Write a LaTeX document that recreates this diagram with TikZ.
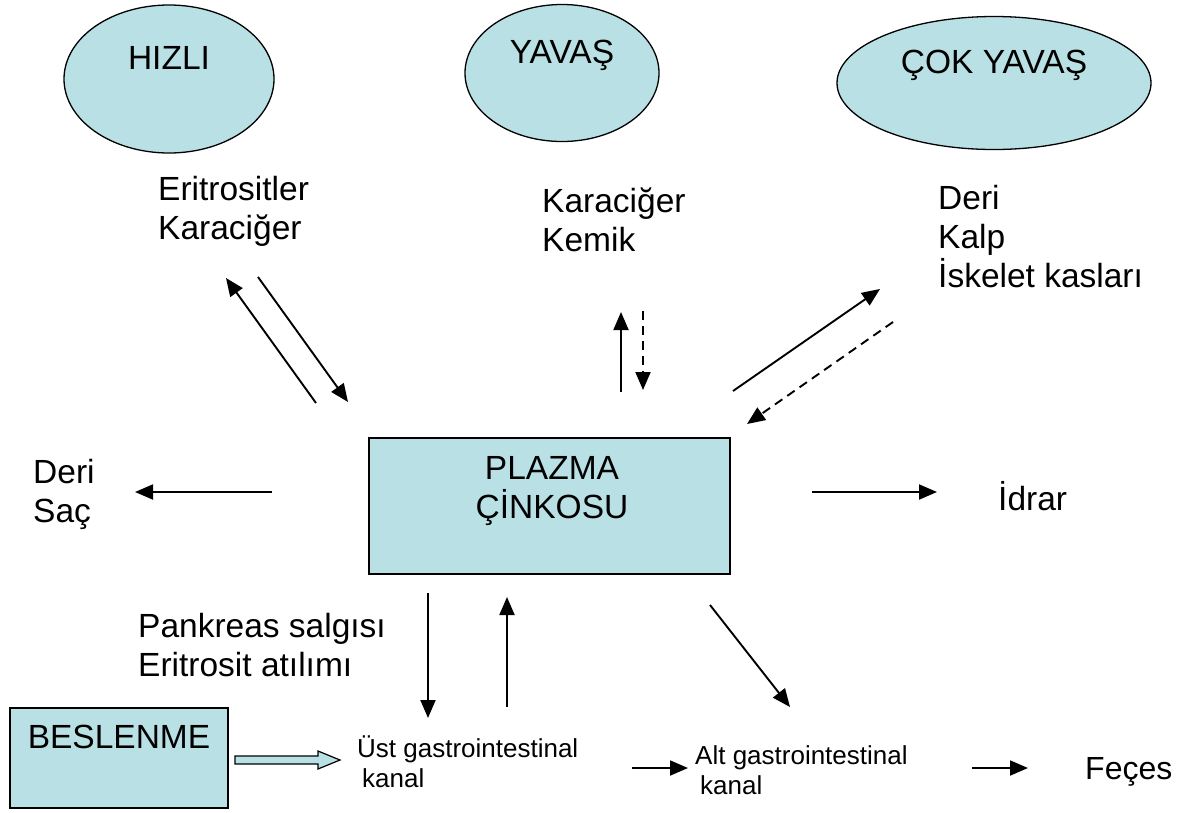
\documentclass[tikz,border=0pt]{standalone}
\usepackage{fontspec}
\setmainfont{Liberation Sans}
\usetikzlibrary{shapes.geometric,arrows.meta,calc}
\definecolor{havuzrengi}{RGB}{185,224,228}
\tikzset{
  havuz/.style={draw,line width=1.3pt,fill=havuzrengi,text height=24pt,text depth=44pt},
  yazi/.style={inner sep=0pt,align=left,anchor=north west},
  ok/.style={line width=1.9pt,-{Triangle[length=18pt,width=15pt]}},
  kesik/.style={dash pattern=on 9pt off 6pt}
}
\begin{document}
\begin{tikzpicture}[x=1pt,y=-1pt,font=\fontsize{33.5}{39}\selectfont]
        \useasboundingbox (0,0) rectangle (1183,812);
        % havuzlar
        \begin{scope}[every node/.style={havuz,ellipse}]
          \node (hizli) at (169,79) [minimum width=210pt,minimum height=148pt] {HIZLI};
          \node (yavas) at (562,73) [minimum width=194pt,minimum height=137pt] {YAVAŞ};
          \node (cokyavas) at (994,83) [minimum width=314pt,minimum height=133pt] {ÇOK YAVAŞ};
        \end{scope}
        \node (plazma) [havuz,minimum width=361pt,minimum height=136pt] at (549.5,506) {};
        \node (plazmayazi) [inner sep=0pt,align=center,anchor=north] at (552,456) {PLAZMA\\ÇİNKOSU};
        \node (beslenme) [havuz,minimum width=218pt,minimum height=100pt] at (119,758) {BESLENME};
        % dokular
        \begin{scope}[every node/.style={yazi}]
          \node (hizliorgan) at (158,176) {Eritrositler\\Karaciğer};
          \node (yavasorgan) at (542,188) {Karaciğer\\Kemik};
          \node (cokorgan) at (938,185) {Deri\\Kalp\\İskelet kasları};
          \node (derisac) at (33,459) {Deri\\Saç};
          \node (pankreas) at (138,613) {Pankreas salgısı\\Eritrosit atılımı};
        \end{scope}
        \node (idrar) [inner sep=0pt,anchor=base west] at (998,510) {İdrar};
        \node (feces) [inner sep=0pt,anchor=base west,font=\fontsize{32}{38}\selectfont] at (1085,779) {Feçes};
        \begin{scope}[every node/.style={yazi,font=\fontsize{26}{30}\selectfont}]
          \node (ust) at (357,736) {Üst gastrointestinal\\\hspace*{5pt}kanal};
          \node (alt) at (695,745) {Alt gastrointestinal\\\hspace*{5pt}kanal};
        \end{scope}
        % ok uclari
        \coordinate (h1) at (316,403); \coordinate (h2) at (226,278);
        \coordinate (h3) at (258,277); \coordinate (h4) at (348,402);
        \coordinate (y1) at (621,392); \coordinate (y2) at (621,312);
        \coordinate (y3) at (643,311); \coordinate (y4) at (643,390);
        \coordinate (c1) at (733,391); \coordinate (c2) at (880,289);
        \coordinate (c3) at (893,322); \coordinate (c4) at (747,424);
        \coordinate (s1) at (272,492); \coordinate (s2) at (135,492);
        \coordinate (i1) at (812,492); \coordinate (i2) at (937,492);
        \coordinate (p1) at (428,593); \coordinate (p2) at (428,718);
        \coordinate (u1) at (507,707); \coordinate (u2) at (507,597);
        \coordinate (a1) at (710,605); \coordinate (a2) at (790,707);
        \coordinate (g1) at (632,768); \coordinate (g2) at (688,768);
        \coordinate (f1) at (972,768); \coordinate (f2) at (1028,768);
        \coordinate (b1) at (235,760); \coordinate (b2) at (340,760);
        \begin{scope}[every edge/.style={draw,ok}]
          \path (h1) edge (h2);
          \path (h3) edge (h4);
          \path (y1) edge (y2);
          \path (y3) edge[kesik] (y4);
          \path (c1) edge (c2);
          \path (c3) edge[kesik] (c4);
          \path (s1) edge (s2);
          \path (i1) edge (i2);
          \path (p1) edge (p2);
          \path (u1) edge (u2);
          \path (a1) edge (a2);
          \path (g1) edge (g2);
          \path (f1) edge (f2);
        \end{scope}
        % beslenme oku
        \draw[line width=1.2pt,fill=havuzrengi] ($(b1)+(0,-4)$) -- ($(b2)+(-22,-4)$) -- ($(b2)+(-22,-9)$)
          -- (b2) -- ($(b2)+(-22,9)$) -- ($(b2)+(-22,4)$) -- ($(b1)+(0,4)$) -- cycle;
      \end{tikzpicture}
\end{document}
